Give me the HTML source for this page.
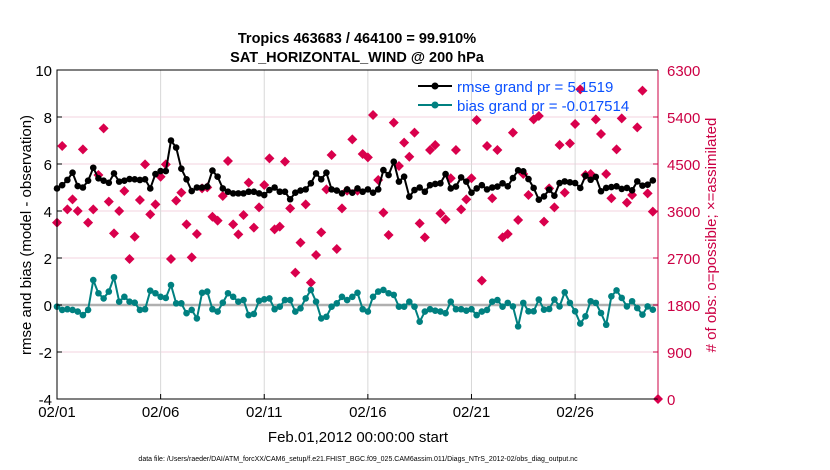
<!DOCTYPE html>
<html><head><meta charset="utf-8"><style>
html,body{margin:0;padding:0;background:#fff;}
svg{display:block;font-family:"Liberation Sans",sans-serif;}
</style></head><body>
<svg id="chart" width="830" height="470" viewBox="0 0 830 470" xmlns="http://www.w3.org/2000/svg">
<rect x="0" y="0" width="830" height="470" fill="#fff"/>
<g id="grid"></g>
<line id="zeroline" stroke="#b0b0b0" stroke-width="2.5"/>
<g id="obs"></g>
<g id="rmse"></g>
<g id="bias"></g>
<g id="axes"></g>
<text x="357" y="43" text-anchor="middle" font-size="14.5" font-weight="bold">Tropics 463683 / 464100 = 99.910%</text>
<text x="357" y="62" text-anchor="middle" font-size="14.5" font-weight="bold">SAT_HORIZONTAL_WIND @ 200 hPa</text>
<text transform="translate(31,235) rotate(-90)" text-anchor="middle" font-size="15">rmse and bias (model - observation)</text>
<text transform="translate(716,235) rotate(-90)" text-anchor="middle" font-size="15" fill="#cc0044"># of obs: o=possible; ×=assimilated</text>
<text x="358" y="442" text-anchor="middle" font-size="15">Feb.01,2012 00:00:00 start</text>
<text x="358" y="461" text-anchor="middle" font-size="7">data file: /Users/raeder/DAI/ATM_forcXX/CAM6_setup/f.e21.FHIST_BGC.f09_025.CAM6assim.011/Diags_NTrS_2012-02/obs_diag_output.nc</text>
<g>
<line x1="418" y1="86" x2="452" y2="86" stroke="#000" stroke-width="2"/>
<circle cx="435" cy="86" r="3.5" fill="#000"/>
<text x="457" y="92" font-size="15" fill="#0a50ff">rmse grand pr = 5.1519</text>
<line x1="418" y1="105" x2="452" y2="105" stroke="#008080" stroke-width="2"/>
<circle cx="435" cy="105" r="3.5" fill="#008080"/>
<text x="457" y="111" font-size="15" fill="#0a50ff">bias grand pr = -0.017514</text>
</g>
</svg>
<script>
const xTickLabels = ["02/01","02/06","02/11","02/16","02/21","02/26"];
const xTickDays = [0,5,10,15,20,25];
const leftTicks = [-4,-2,0,2,4,6,8,10];
const rightTicks = [0,900,1800,2700,3600,4500,5400,6300];
const rmseValues = [4.96,5.1,5.32,5.63,5.06,5.0,5.29,5.84,5.39,5.29,5.2,5.6,5.25,5.29,5.36,5.35,5.32,5.35,4.96,5.57,5.7,5.7,
7.0,6.7,5.8,5.35,4.85,5.0,5.0,5.04,5.72,5.46,4.96,4.82,4.75,4.75,4.75,4.82,4.82,4.75,4.68,4.89,5.0,4.82,
4.82,4.5,4.78,4.87,4.92,5.18,5.6,5.35,5.63,4.92,4.87,4.75,4.92,4.78,4.96,4.82,4.92,4.78,4.92,5.74,
5.53,6.1,5.25,5.46,4.61,4.89,5.0,4.82,5.1,5.15,5.18,5.57,4.96,5.04,5.43,5.25,4.78,4.96,5.1,4.92,5.0,5.04,5.18,
5.05,5.4,5.73,5.69,5.36,4.98,4.48,4.62,4.91,4.65,5.19,5.26,5.22,5.19,4.98,5.5,5.33,5.45,4.84,4.98,5.02,5.05,4.94,4.98,4.88,5.26,5.08,5.12,5.3];
const biasValues = [-0.07,-0.21,-0.18,-0.21,-0.28,-0.43,-0.21,1.06,0.5,0.28,0.57,1.18,0.14,0.35,0.14,0.1,-0.21,-0.18,0.61,0.5,0.35,0.3,
0.85,0.07,0.07,-0.35,-0.21,-0.57,0.52,0.57,-0.18,-0.28,0.1,0.5,0.35,0.14,0.21,-0.43,-0.38,0.18,0.24,0.28,-0.18,-0.07,
0.21,0.21,-0.28,-0.14,0.28,0.64,0.14,-0.57,-0.5,-0.07,0.07,0.35,0.21,0.35,0.52,-0.18,-0.28,0.35,0.57,0.64,
0.5,0.43,-0.07,-0.07,0.14,-0.07,-0.71,-0.28,-0.18,-0.24,-0.28,-0.35,0.14,-0.18,-0.18,-0.24,-0.18,-0.43,-0.28,-0.21,0.14,0.21,-0.07,
0.09,-0.06,-0.91,0.09,-0.27,-0.27,0.23,-0.2,-0.17,0.23,-0.06,0.54,0.09,-0.27,-0.79,-0.48,0.16,0.09,-0.34,-0.84,0.37,0.62,0.3,-0.06,0.16,-0.13,-0.41,-0.06,-0.2];
const obsCounts = [3377,4845,3632,3823,3600,4781,3377,3632,4289,5183,3779,3172,3600,3983,2681,3108,3811,4494,3536,3728,4257,4494,
2681,3798,3951,3345,2713,3160,4034,4053,3491,3415,3887,4557,3345,3153,3523,4143,3281,3670,4097,4608,3249,3300,
4545,3651,2419,2994,3728,2228,2757,3191,4015,4672,2872,3651,3989,4972,3989,4691,4628,5438,4194,3568,
3140,5292,4462,4909,4640,5100,3364,3096,4768,4864,3555,3440,4226,4768,3632,3823,4226,5343,2266,4845,3843,4768,3096,
3160,5100,3428,4309,3906,5355,5419,3396,4034,3670,4864,3951,4896,5266,5930,4289,4309,5355,5074,4309,3843,4781,5374,3760,3906,5202,5904,3938,3587,0];
const stepDays = 0.25;

const X0=57,X1=658,Y0=70,Y1=399,XMAX=29;
const xs=d=>X0+(X1-X0)*d/XMAX;
const yl=v=>Y1-(v+4)/14*(Y1-Y0);
const yr=v=>Y1-v/6300*(Y1-Y0);
const NS="http://www.w3.org/2000/svg";
function mk(tag,attrs,parent){const e=document.createElementNS(NS,tag);for(const k in attrs)e.setAttribute(k,attrs[k]);parent.appendChild(e);return e;}
const grid=document.getElementById('grid'),axes=document.getElementById('axes');
leftTicks.forEach(v=>{if(v>-4&&v<10){const l=mk('line',{x1:X0,x2:X1,y1:yl(v),y2:yl(v),stroke:'#f3d3df','stroke-width':1},grid);

}
const t=mk('text',{x:X0-5,y:yl(v)+6,'text-anchor':'end','font-size':15},axes);t.textContent=v;


mk('line',{x1:X0,x2:X0+5,y1:yl(v),y2:yl(v),stroke:'#000'},axes);});
rightTicks.forEach(v=>{const t=mk('text',{x:X1+9,y:yr(v)+6,'font-size':15,fill:'#cc0044'},axes);t.textContent=v;


mk('line',{x1:X1-5,x2:X1,y1:yr(v),y2:yr(v),stroke:'#cc0044'},axes);});
xTickDays.forEach((d,i)=>{if(d>0){const l=mk('line',{x1:xs(d),x2:xs(d),y1:Y0,y2:Y1,stroke:'#d8d8d8','stroke-width':1},grid);

}
mk('line',{x1:xs(d),x2:xs(d),y1:Y1,y2:Y1-5,stroke:'#000'},axes);
const t=mk('text',{x:xs(d),y:417,'text-anchor':'middle','font-size':15},axes);t.textContent=xTickLabels[i];

});
mk('path',{d:`M${X1},${Y0}H${X0}V${Y1}H${X1}`,fill:'none',stroke:'#000','stroke-width':1},axes);
mk('line',{x1:X1,x2:X1,y1:Y0,y2:Y1,stroke:'#cc0044','stroke-width':1},axes);
const z=document.getElementById('zeroline');z.setAttribute('x1',X0);z.setAttribute('x2',X1);z.setAttribute('y1',yl(0));z.setAttribute('y2',yl(0));

const obsG=document.getElementById('obs');
obsCounts.forEach((c,i)=>{const x=xs(i*stepDays),y=yr(c),s=5;
const p=mk('path',{d:`M${x},${y-s}L${x+s},${y}L${x},${y+s}L${x-s},${y}Z`,fill:'#d9004c'},obsG);

});
function series(g,vals,col,nm){
const pts=vals.map((v,i)=>`${xs(i*stepDays).toFixed(1)},${yl(v).toFixed(1)}`).join(' ');
const pl=mk('polyline',{points:pts,fill:'none',stroke:col,'stroke-width':2},g);


vals.forEach((v,i)=>{const c=mk('circle',{cx:xs(i*stepDays),cy:yl(v),r:3.3,fill:col},g);

});}
series(document.getElementById('rmse'),rmseValues,'#000','rmse');
series(document.getElementById('bias'),biasValues,'#008080','bias');
</script>
</body></html>
